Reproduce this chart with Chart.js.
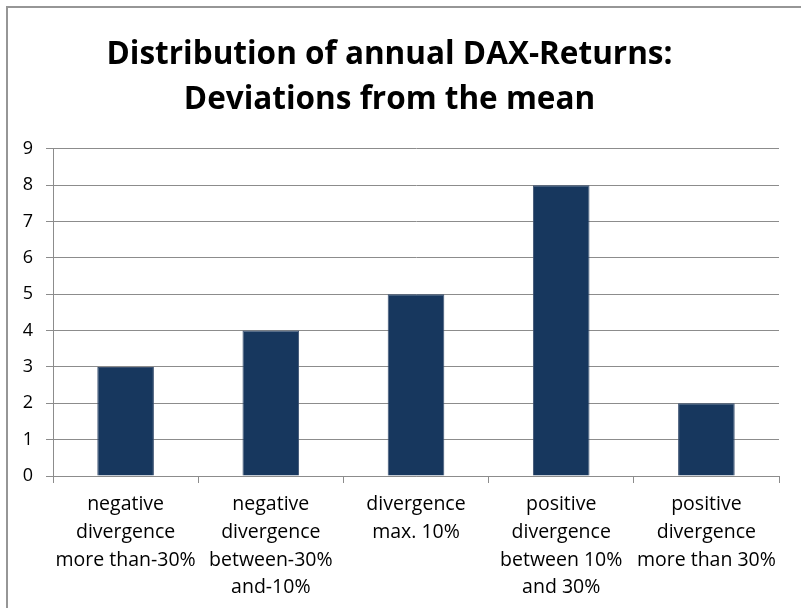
<!DOCTYPE html>
<html>
<head>
<meta charset="utf-8">
<script src="https://cdn.jsdelivr.net/npm/chart.js@4"></script>
<style>
  html, body { margin: 0; padding: 0; background: #fff; overflow: hidden; }
  .frame { position: absolute; left: 6px; top: 6px; width: 900px; height: 700px; border: 2px solid #969696; }
  .wrap { position: absolute; left: 0; top: 0; width: 801px; height: 608px; }
</style>
</head>
<body>
<div class="frame"></div>
<div class="wrap"><canvas id="chart" width="801" height="608"></canvas></div>
<script>
const categories = [
    ["negative", "divergence", "more than-30%"],
    ["negative", "divergence", "between-30%", "and-10%"],
    ["divergence", "max. 10%"],
    ["positive", "divergence", "between 10%", "and 30%"],
    ["positive", "divergence", "more than 30%"],
];
const counts = [3, 4, 5, 8, 2];
const yTicks = [0, 1, 2, 3, 4, 5, 6, 7, 8, 9];

const gridGray = "#8c8c8c";
const font = "'Open Sans', Calibri, sans-serif";

new Chart(document.getElementById("chart"), {
    type: "bar",
    data: {
        labels: categories,
        datasets: [
            {
                label: "Count",
                data: counts,
                backgroundColor: "#17375e",
                borderColor: "#3a5070",
                borderWidth: 1,
                categoryPercentage: 1,
                barPercentage: 0.39,
            },
        ],
    },
    options: {
        responsive: false,
        animation: false,
        layout: { padding: { left: 0, right: 22, top: 0, bottom: 0 } },
        plugins: {
            legend: { display: false },
            tooltip: { enabled: false },
            title: {
                display: true,
                text: ["Distribution of annual DAX-Returns:", "Deviations from the mean"],
                color: "#000",
                font: { family: font, size: 31.5, weight: "bold", lineHeight: 1.45 },
                padding: { top: 32, bottom: 25.5 },
            },
        },
        scales: {
            x: {
                offset: true,
                grid: { drawOnChartArea: false, drawTicks: true, tickLength: 7, color: gridGray, offset: true },
                border: { color: gridGray, width: 1 },
                ticks: {
                    color: "#000",
                    maxRotation: 0,
                    autoSkip: false,
                    padding: 8,
                    font: { family: font, size: 19.5, lineHeight: 1.42 },
                },
                afterFit: (s) => { s.height = 132; },
            },
            y: {
                min: 0,
                max: 9,
                afterBuildTicks: (s) => { s.ticks = yTicks.map((v) => ({ value: v })); },
                grid: { color: gridGray, tickLength: 7 },
                border: { color: gridGray, width: 1 },
                ticks: {
                    color: "#000",
                    padding: 13,
                    font: { family: font, size: 18 },
                },
                afterFit: (s) => { s.width = 53; },
            },
        },
    },
});
</script>
</body>
</html>
